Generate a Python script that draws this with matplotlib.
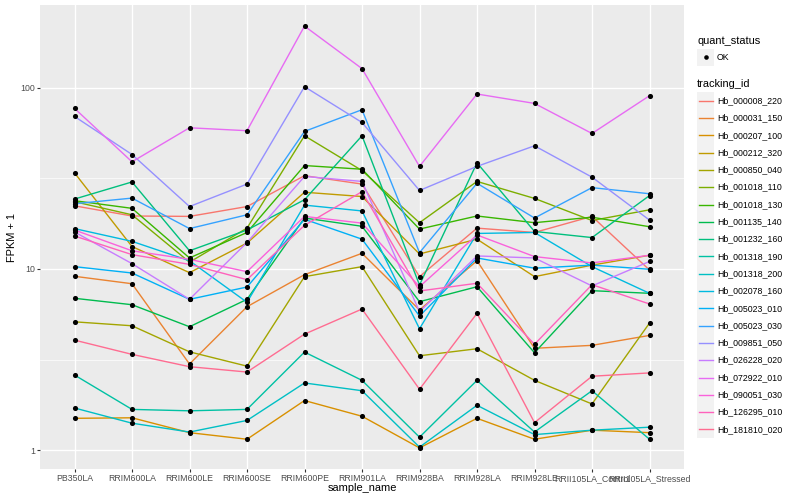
import numpy as np
import matplotlib.pyplot as plt
from matplotlib.lines import Line2D
from matplotlib.patches import Rectangle
from matplotlib.ticker import FixedLocator, NullFormatter

plt.rcParams['font.family'] = ['Liberation Sans', 'DejaVu Sans']

samples = ["PB350LA", "RRIM600LA", "RRIM600LE", "RRIM600SE", "RRIM600PE",
           "RRIM901LA", "RRIM928BA", "RRIM928LA", "RRIM928LE",
           "RRII105LA_Control", "RRII105LA_Stressed"]

tracking_ids = ["Hb_000008_220", "Hb_000031_150", "Hb_000207_100", "Hb_000212_320",
                "Hb_000850_040", "Hb_001018_110", "Hb_001018_130", "Hb_001135_140",
                "Hb_001232_160", "Hb_001318_190", "Hb_001318_200", "Hb_002078_160",
                "Hb_005023_010", "Hb_005023_030", "Hb_009851_050", "Hb_026228_020",
                "Hb_072922_010", "Hb_090051_030", "Hb_126295_010", "Hb_181810_020"]

# ggplot hue palette, 20 levels
colors = ["#F8766D", "#EA8331", "#D89000", "#C09B00", "#A3A500", "#7CAE00",
          "#39B600", "#00BB4E", "#00BF7D", "#00C1A3", "#00BFC4", "#00BAE0",
          "#00B0F6", "#35A2FF", "#9590FF", "#C77CFF", "#E76BF3", "#FA62DB",
          "#FF62BC", "#FF6C91"]

# FPKM + 1 per sample, one list per gene
hb_000008_220 = [22.3, 19.6, 19.5, 22.1, 32.7, 29.4, 9.07, 16.8, 15.9, 19.5, 9.87]
hb_000031_150 = [9.11, 8.29, 2.99, 6.19, 9.30, 12.2, 5.94, 11.1, 3.65, 3.79, 4.30]
hb_000207_100 = [1.50, 1.51, 1.25, 1.15, 1.88, 1.54, 1.03, 1.50, 1.15, 1.29, 1.25]
hb_000212_320 = [33.9, 13.3, 9.54, 13.9, 26.5, 25.1, 12.1, 14.6, 9.07, 10.5, 11.9]
hb_000850_040 = [5.11, 4.86, 3.49, 2.91, 9.07, 10.3, 3.32, 3.63, 2.43, 1.80, 5.03]
hb_001018_110 = [23.5, 19.9, 10.9, 16.8, 54.3, 34.9, 18.0, 30.4, 24.5, 18.5, 21.2]
hb_001018_130 = [23.8, 21.6, 11.5, 15.9, 37.2, 35.5, 16.6, 19.6, 18.0, 19.3, 17.1]
hb_001135_140 = [6.89, 6.35, 4.80, 6.80, 19.1, 17.2, 6.60, 7.98, 3.45, 7.59, 7.34]
hb_001232_160 = [24.3, 30.2, 12.6, 16.4, 24.1, 54.3, 8.16, 38.5, 16.1, 14.9, 25.4]
hb_001318_190 = [2.60, 1.68, 1.65, 1.68, 3.48, 2.43, 1.18, 2.43, 1.26, 2.13, 1.15]
hb_001318_200 = [1.71, 1.41, 1.26, 1.46, 2.35, 2.13, 1.04, 1.77, 1.22, 1.29, 1.34]
hb_002078_160 = [16.7, 14.2, 11.1, 6.55, 22.5, 20.9, 4.68, 15.7, 15.9, 10.3, 7.34]
hb_005023_010 = [10.3, 9.50, 6.80, 7.95, 18.8, 14.6, 5.50, 11.5, 10.1, 10.5, 9.96]
hb_005023_030 = [22.9, 24.6, 16.7, 19.9, 57.4, 75.6, 12.3, 29.7, 19.1, 28.1, 26.0]
hb_009851_050 = [69.4, 42.8, 22.1, 29.4, 101.3, 64.3, 27.1, 36.8, 47.8, 32.1, 18.6]
hb_026228_020 = [16.0, 10.7, 6.80, 14.0, 32.4, 30.4, 5.81, 11.8, 11.5, 8.06, 11.0]
hb_072922_010 = [76.9, 39.0, 60.1, 57.9, 218.7, 127.4, 36.8, 92.3, 81.9, 55.9, 90.3]
hb_090051_030 = [16.4, 12.6, 11.3, 9.66, 19.5, 17.9, 7.98, 15.4, 11.7, 10.8, 11.9]
hb_126295_010 = [15.2, 12.0, 10.6, 8.73, 17.4, 26.7, 7.56, 8.34, 3.84, 8.19, 6.41]
hb_181810_020 = [4.05, 3.38, 2.89, 2.70, 4.37, 6.01, 2.17, 5.69, 1.42, 2.56, 2.67]

series = [hb_000008_220, hb_000031_150, hb_000207_100, hb_000212_320, hb_000850_040,
          hb_001018_110, hb_001018_130, hb_001135_140, hb_001232_160, hb_001318_190,
          hb_001318_200, hb_002078_160, hb_005023_010, hb_005023_030, hb_009851_050,
          hb_026228_020, hb_072922_010, hb_090051_030, hb_126295_010, hb_181810_020]

W, H = 800, 500
fig = plt.figure(figsize=(W / 100, H / 100), dpi=100)
# panel in pixels: left 40, right 684, top 5, bottom 469
ax = fig.add_axes([40 / W, 1 - 469 / H, (684 - 40) / W, (469 - 5) / H])
ax.set_facecolor('#EBEBEB')

x = np.arange(len(samples))
for vals, col in zip(series, colors):
    ax.plot(x, vals, color=col, lw=1.0, zorder=2)
for vals in series:
    ax.plot(x, vals, 'o', color='black', ms=3.7, mew=0, zorder=3)

ax.set_yscale('log')
logs = np.log10(np.concatenate(series))
pad = 0.05 * (logs.max() - logs.min())
ax.set_ylim(10 ** (logs.min() - pad), 10 ** (logs.max() + pad))
ax.set_xlim(-0.6, len(samples) - 0.4)

ax.set_xticks(x, samples)
ax.set_yticks([1, 10, 100], ['1', '10', '100'])
ax.yaxis.set_minor_locator(FixedLocator([10 ** 0.5, 10 ** 1.5]))
ax.yaxis.set_minor_formatter(NullFormatter())
ax.tick_params(which='minor', length=0)
ax.tick_params(which='major', length=2.0, width=0.8, color='#333333',
               labelcolor='#4D4D4D', labelsize=6.3, pad=1.5)
ax.grid(which='major', color='white', lw=1.0)
ax.grid(which='minor', axis='y', color='white', lw=0.5)
ax.set_axisbelow(True)
for s in ax.spines.values():
    s.set_visible(False)

fig.text(362 / W, 1 - 488 / H, 'sample_name', ha='center', va='center', fontsize=7.9)
fig.text(12 / W, 1 - 237 / H, 'FPKM + 1', ha='center', va='center',
         rotation=90, fontsize=7.9)


# legends, drawn in pixel positions
def fx(px):
    return px / W


def fy(py):
    return 1 - py / H


key = 17.3
kx = 697
fig.text(fx(kx), fy(40.5), 'quant_status', ha='left', va='center', fontsize=7.9)
fig.add_artist(Rectangle((fx(kx), fy(57.3 + key / 2)), key / W, key / H,
                         transform=fig.transFigure, facecolor='#F2F2F2', edgecolor='none'))
fig.add_artist(Line2D([fx(kx + key / 2)], [fy(57.3)], marker='o', color='black',
                      ms=3.3, mew=0, transform=fig.transFigure))
fig.text(fx(717), fy(57.3), 'OK', ha='left', va='center', fontsize=6.3)

fig.text(fx(kx), fy(84.3), 'tracking_id', ha='left', va='center', fontsize=7.9)
for i, (name, col) in enumerate(zip(tracking_ids, colors)):
    cy = 100.7 + i * key
    fig.add_artist(Rectangle((fx(kx), fy(cy + key / 2)), key / W, key / H,
                             transform=fig.transFigure, facecolor='#F2F2F2',
                             edgecolor='none'))
    fig.add_artist(Line2D([fx(kx + 1.7), fx(kx + key - 1.7)], [fy(cy), fy(cy)],
                          color=col, lw=1.0, transform=fig.transFigure))
    fig.text(fx(717), fy(cy), name, ha='left', va='center', fontsize=6.3)

fig.savefig('out.png', dpi=100)
